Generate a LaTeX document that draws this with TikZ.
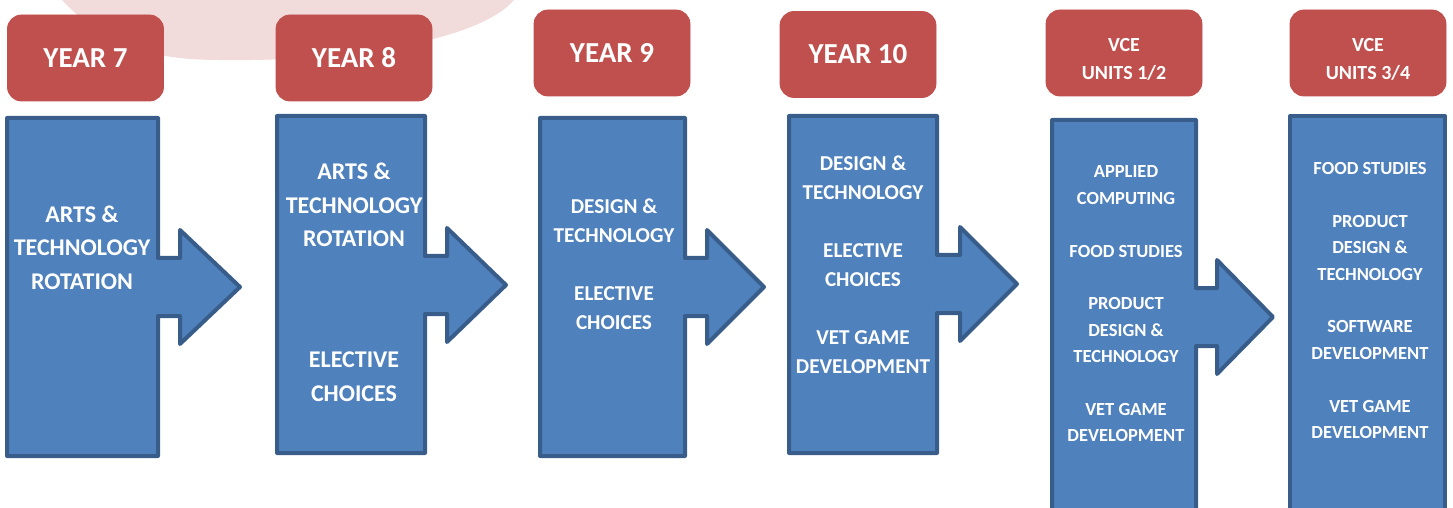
\documentclass[tikz,border=0pt]{standalone}
\usepackage{fontspec}
\setmainfont{Carlito}
\definecolor{yearred}{HTML}{C0504D}
\definecolor{stageblue}{HTML}{4F81BD}
\definecolor{stageedge}{HTML}{385D8A}
\definecolor{blush}{HTML}{F2DCDB}

\begin{document}
\begin{tikzpicture}[x=0.5pt, y=-0.5pt,
    yearbox/.style={rectangle, rounded corners=7pt, fill=yearred, draw=yearred,
      minimum width=78pt, minimum height=43pt, text=white, align=center,
      font=\bfseries\fontsize{14.5}{17}\selectfont},
    vcetext/.style={text=white, inner sep=0pt, align=center,
      font=\bfseries\fontsize{10}{14}\selectfont},
    stage/.style={fill=stageblue, draw=stageedge, line width=2pt, line join=round},
    subj/.style={text=white, inner sep=0pt, align=center},
    bigsubj/.style={subj, font=\bfseries\fontsize{12}{16.75}\selectfont},
    midsubj/.style={subj, font=\bfseries\fontsize{10.6}{14.5}\selectfont},
    smallsubj/.style={subj, font=\bfseries\fontsize{9.25}{13.2}\selectfont}]
  \useasboundingbox (0,0) rectangle (1453,508);
  \clip (0,0) rectangle (1453,508);

  % pink backdrop
  \fill[blush] (62,0) .. controls (100,40) and (140,60) .. (220,60)
    .. controls (350,62) and (480,40) .. (514,0) -- cycle;

  % stages with arrows
  \draw[stage] (7,118) -- (158,118) -- (158,258) -- (180,258) -- (180,230) -- (240,287)
    -- (180,344) -- (180,316) -- (158,316) -- (158,456) -- (7,456) -- cycle;
  \draw[stage] (277,116) -- (425,116) -- (425,256) -- (447,256) -- (447,228) -- (506,285)
    -- (447,342) -- (447,314) -- (425,314) -- (425,453) -- (277,453) -- cycle;
  \draw[stage] (540,118) -- (685,118) -- (685,258) -- (707,258) -- (707,230) -- (764,287)
    -- (707,344) -- (707,316) -- (685,316) -- (685,456) -- (540,456) -- cycle;
  \draw[stage] (789,116) -- (937,116) -- (937,255) -- (960,255) -- (960,227) -- (1017,284)
    -- (960,341) -- (960,313) -- (937,313) -- (937,453) -- (789,453) -- cycle;
  \draw[stage] (1052,120) -- (1196,120) -- (1196,288) -- (1217,288) -- (1217,260) -- (1273,317)
    -- (1217,374) -- (1217,346) -- (1196,346) -- (1196,530) -- (1052,530) -- cycle;
  \draw[stage] (1290,116) rectangle (1445,530);

  % headers
  \node[yearbox] (y7) at (85.5,58) {YEAR 7};
  \node[yearbox] (y8) at (354,58) {YEAR 8};
  \node[yearbox] (y9) at (612,53) {YEAR 9};
  \node[yearbox] (y10) at (858,54.5) {YEAR 10};
  \node[yearbox] (u12) at (1124,53) {};
  \node[vcetext] (u12t) at (1124,59) {VCE\\UNITS 1/2};
  \node[yearbox] (u34) at (1368,53) {};
  \node[vcetext] (u34t) at (1368,59) {VCE\\UNITS 3/4};

  % subjects
  \node[bigsubj] (s7) at (82,247.5) {ARTS \&\\TECHNOLOGY\\ROTATION};
  \node[bigsubj] (s8a) at (354,205) {ARTS \&\\TECHNOLOGY\\ROTATION};
  \node[bigsubj] (s8b) at (354,376.5) {ELECTIVE\\CHOICES};
  \node[midsubj] (s9) at (614,264) {DESIGN \&\\TECHNOLOGY\\[14.5pt]ELECTIVE\\CHOICES};
  \node[midsubj] (s10) at (863,264.5) {DESIGN \&\\TECHNOLOGY\\[14.5pt]ELECTIVE\\CHOICES\\[14.5pt]VET GAME\\DEVELOPMENT};
  \node[smallsubj] (s12) at (1126,304) {APPLIED\\COMPUTING\\[13.2pt]FOOD STUDIES\\[13.2pt]PRODUCT\\DESIGN \&\\TECHNOLOGY\\[13.2pt]VET GAME\\DEVELOPMENT};
  \node[smallsubj] (s34) at (1370,300.5) {FOOD STUDIES\\[13.2pt]PRODUCT\\DESIGN \&\\TECHNOLOGY\\[13.2pt]SOFTWARE\\DEVELOPMENT\\[13.2pt]VET GAME\\DEVELOPMENT};
\end{tikzpicture}
\end{document}
